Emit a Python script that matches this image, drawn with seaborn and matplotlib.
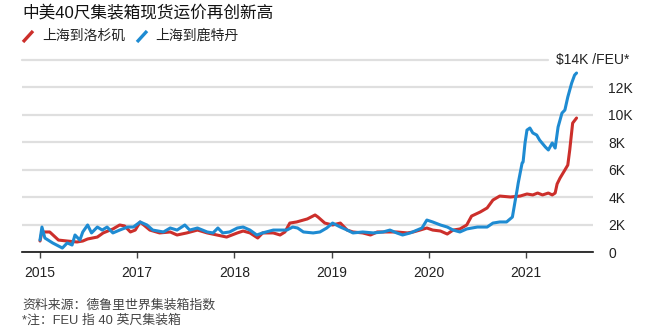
import matplotlib
matplotlib.use("Agg")
import matplotlib.pyplot as plt
from matplotlib.lines import Line2D
from matplotlib.transforms import blended_transform_factory
import seaborn as sns
import pandas as pd

# ---------------- data ----------------
title = "中美40尺集装箱现货运价再创新高"
series_names = ["上海到洛杉矶", "上海到鹿特丹"]
colors = ["#cc2f2b", "#1e8bd2"]

la_x = [2016.00, 2016.02, 2016.10, 2016.19, 2016.28, 2016.38, 2016.44, 2016.49, 2016.59, 2016.65,
        2016.75, 2016.82, 2016.87, 2016.93, 2016.98, 2017.03, 2017.13, 2017.23, 2017.34, 2017.41,
        2017.51, 2017.62, 2017.72, 2017.82, 2017.92, 2018.03, 2018.09, 2018.16, 2018.24, 2018.29,
        2018.40, 2018.47, 2018.52, 2018.57, 2018.64, 2018.75, 2018.83, 2018.86, 2018.93, 2019.01,
        2019.09, 2019.16, 2019.22, 2019.32, 2019.40, 2019.47, 2019.57, 2019.67, 2019.78, 2019.84,
        2019.91, 2019.98, 2020.04, 2020.12, 2020.19, 2020.25, 2020.32, 2020.39, 2020.44, 2020.53,
        2020.60, 2020.66, 2020.73, 2020.84, 2020.94, 2021.01, 2021.07, 2021.12, 2021.17, 2021.23,
        2021.27, 2021.30, 2021.32, 2021.35, 2021.40, 2021.43, 2021.45, 2021.47, 2021.48, 2021.52]
la_y = [800, 1460, 1460, 870, 800, 730, 800, 950, 1090, 1390,
        1680, 1970, 1900, 1460, 1600, 2190, 1600, 1390, 1460, 1240,
        1390, 1600, 1390, 1240, 1090, 1390, 1530, 1390, 1020, 1390,
        1390, 1240, 1460, 2110, 2190, 2410, 2700, 2550, 2110, 1970,
        2110, 1600, 1460, 1390, 1240, 1460, 1460, 1460, 1390, 1460,
        1600, 1750, 1600, 1530, 1310, 1600, 1680, 1970, 2620, 2920,
        3210, 3790, 4080, 4010, 4080, 4230, 4160, 4300, 4160, 4300,
        4160, 4300, 4960, 5390, 5980, 6340, 7440, 8750, 9400, 9770]

rt_x = [2016.00, 2016.02, 2016.05, 2016.13, 2016.23, 2016.28, 2016.33, 2016.36, 2016.41, 2016.44,
        2016.49, 2016.53, 2016.59, 2016.64, 2016.69, 2016.75, 2016.82, 2016.90, 2016.96, 2017.03,
        2017.10, 2017.16, 2017.27, 2017.34, 2017.41, 2017.49, 2017.54, 2017.62, 2017.72, 2017.78,
        2017.83, 2017.88, 2017.95, 2018.03, 2018.09, 2018.16, 2018.23, 2018.29, 2018.40, 2018.54,
        2018.60, 2018.65, 2018.71, 2018.81, 2018.88, 2018.95, 2019.01, 2019.09, 2019.16, 2019.22,
        2019.32, 2019.43, 2019.53, 2019.60, 2019.67, 2019.73, 2019.81, 2019.88, 2019.93, 2019.98,
        2020.04, 2020.12, 2020.19, 2020.25, 2020.32, 2020.39, 2020.50, 2020.60, 2020.66, 2020.73,
        2020.80, 2020.86, 2020.89, 2020.91, 2020.92, 2020.94, 2020.96, 2020.97, 2020.99, 2021.01,
        2021.04, 2021.07, 2021.11, 2021.14, 2021.20, 2021.23, 2021.27, 2021.30, 2021.33, 2021.37,
        2021.40, 2021.43, 2021.47, 2021.50, 2021.52]
rt_y = [870, 1820, 1020, 660, 290, 660, 510, 1240, 870, 1460,
        1970, 1390, 1820, 1600, 1820, 1390, 1600, 1820, 1820, 2190,
        1970, 1600, 1460, 1750, 1600, 1970, 1600, 1750, 1460, 1390,
        1750, 1390, 1460, 1750, 1820, 1600, 1240, 1390, 1600, 1600,
        1820, 1750, 1460, 1390, 1460, 1750, 2110, 1820, 1600, 1390,
        1460, 1390, 1460, 1600, 1390, 1240, 1390, 1600, 1750, 2330,
        2190, 1970, 1820, 1600, 1460, 1680, 1820, 1820, 2110, 2190,
        2190, 2550, 3790, 4590, 5030, 5760, 6490, 6560, 7950, 8890,
        9040, 8680, 8530, 8160, 7650, 7440, 7950, 7580, 9110, 10130,
        10350, 11300, 12320, 12900, 13050]

x_tick_pos = [2016, 2017, 2018, 2019, 2020, 2021]
x_tick_labels = ["2015", "2017", "2018", "2019", "2020", "2021"]
y_tick_vals = [0, 2000, 4000, 6000, 8000, 10000, 12000]
y_tick_labels = ["0", "2K", "4K", "6K", "8K", "10K", "12K"]
top_val = 14000
top_label = "$14K /FEU*"
note1 = "资料来源：德鲁里世界集装箱指数"
note2 = "*注：FEU 指 40 英尺集装箱"

# ---------------- style ----------------
sns.set_theme(style="white")
plt.rcParams["font.family"] = ["Liberation Sans", "Noto Sans CJK SC", "DejaVu Sans"]

W, H = 650, 336
fig = plt.figure(figsize=(W / 100, H / 100), dpi=100)
ax_l, ax_r, ax_b, ax_t = 22, 593, 252, 60
ax = fig.add_axes([ax_l / W, (H - ax_b) / H, (ax_r - ax_l) / W, (ax_b - ax_t) / H])

df = pd.concat([
    pd.DataFrame({"x": la_x, "y": la_y, "route": series_names[0]}),
    pd.DataFrame({"x": rt_x, "y": rt_y, "route": series_names[1]}),
])
sns.lineplot(data=df, x="x", y="y", hue="route", palette=colors, linewidth=2.2,
             ax=ax, legend=False, sort=False, zorder=3)

# axis ranges: 2016 tick at px 40, one year = 97.2 px
px_per_year = 97.2
ax.set_xlim(2016 + (ax_l - 40) / px_per_year, 2016 + (ax_r - 40) / px_per_year)
ax.set_ylim(0, top_val)

grid_c = "#dfdfdf"
ax.set_yticks(y_tick_vals)
ax.set_yticklabels(y_tick_labels)
ax.yaxis.tick_right()
ax.grid(axis="y", color=grid_c, linewidth=1.6, zorder=0)
ax.grid(axis="x", visible=False)
ax.axhline(top_val, xmin=0, xmax=(548 - ax_l) / (ax_r - ax_l), color=grid_c,
           linewidth=1.6, clip_on=False, zorder=0)
trans = blended_transform_factory(ax.transAxes, ax.transData)
ax.text((556 - ax_l) / (ax_r - ax_l), top_val, top_label, transform=trans,
        ha="left", va="center", fontsize=10, color="#222222")

ax.set_xticks(x_tick_pos)
ax.set_xticklabels(x_tick_labels)
ax.tick_params(axis="x", direction="out", length=4, width=1, color="#444444",
               labelsize=10, labelcolor="#222222", pad=6, bottom=True)
ax.tick_params(axis="y", length=0, labelsize=10, labelcolor="#222222", pad=11)

for s in ["top", "left", "right"]:
    ax.spines[s].set_visible(False)
ax.spines["bottom"].set_color("#111111")
ax.spines["bottom"].set_linewidth(1.2)
ax.set_xlabel("")
ax.set_ylabel("")

# title
fig.text(ax_l / W, 1 - 12 / H, title, ha="left", va="center", fontsize=12, color="#111111")

# legend with slash markers
leg_y = 36
for (x0, name, c, tx) in [(23, series_names[0], colors[0], 42), (137, series_names[1], colors[1], 155)]:
    fig.add_artist(Line2D([x0 / W, (x0 + 10) / W], [1 - 42 / H, 1 - 31 / H],
                          color=c, linewidth=2.4, solid_capstyle="butt"))
    fig.text(tx / W, 1 - leg_y / H, name, ha="left", va="center", fontsize=10, color="#222222")

# notes
fig.text(ax_l / W, 1 - 306 / H, note1, ha="left", va="center", fontsize=9.3, color="#444444")
fig.text(ax_l / W, 1 - 321 / H, note2, ha="left", va="center", fontsize=9.3, color="#444444")

fig.savefig("out.png", dpi=100)
